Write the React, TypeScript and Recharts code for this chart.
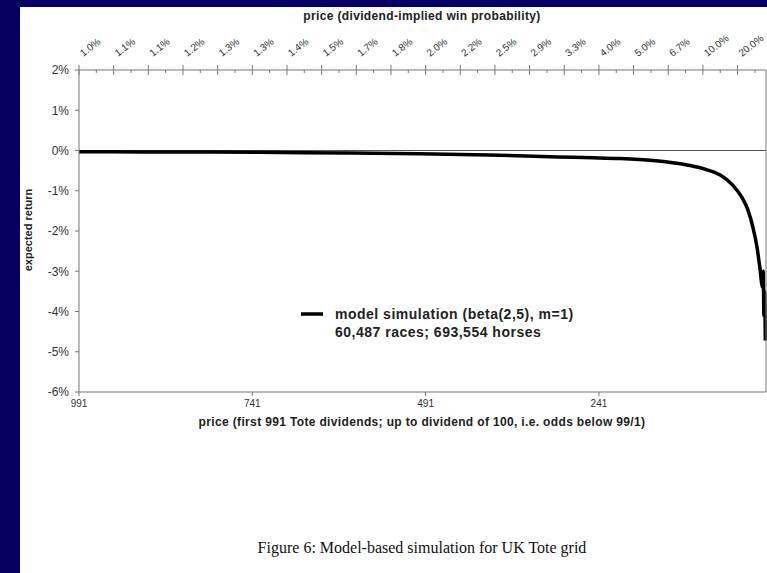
import { LineChart, Line, XAxis, YAxis, ReferenceLine, Legend } from "recharts";

// price index (first 991 Tote dividends), read right-to-left on the chart
const prices = [991, 900, 800, 700, 600, 500, 400, 300, 250, 211, 163, 114, 85, 66, 48, 35, 26, 19, 13, 9, 5, 4, 3, 2, 1];
// expected return in %
const returns = [-0.03, -0.035, -0.04, -0.05, -0.06, -0.08, -0.11, -0.16, -0.18, -0.2, -0.25, -0.36, -0.48, -0.61, -0.86, -1.16, -1.48, -1.9, -2.4, -2.89, -3.39, -3.0, -4.1, -3.5, -4.72];

const bottomTicks = [991, 741, 491, 241];
const yTicks = [-6, -5, -4, -3, -2, -1, 0, 1, 2];
const probLabels = ["1.0%", "1.1%", "1.1%", "1.2%", "1.3%", "1.3%", "1.4%", "1.5%", "1.7%", "1.8%", "2.0%", "2.2%", "2.5%", "2.9%", "3.3%", "4.0%", "5.0%", "6.7%", "10.0%", "20.0%"];

const data = prices.map((p, i) => ({ price: p, ret: returns[i] }));

// top axis: one category per 50 dividends
const topBounds = probLabels.map((_, i) => 991 - 50 * i);
const topMids = probLabels.map((_, i) => 991 - 50 * i - 25);

const font = "'Liberation Sans', Arial, sans-serif";
const axisColor = "#777";

function TopTick(props: any) {
  const { x, y, payload } = props;
  const idx = topMids.indexOf(payload.value);
  if (idx < 0) {
    return <line x1={x} x2={x} y1={y - 5} y2={y + 5} stroke={axisColor} />;
  }
  const tx = x - 13;
  const ty = y - 13;
  return (
    <g>
      <line x1={x} x2={x} y1={y} y2={y + 3} stroke={axisColor} />
      <text x={tx} y={ty} transform={`rotate(-38 ${tx} ${ty})`} fontSize={10} fill="#333" fontFamily={font}>
        {probLabels[idx]}
      </text>
    </g>
  );
}

function LegendBox() {
  return (
    <div style={{ display: "flex", fontFamily: font, fontWeight: "bold", fontSize: 14, letterSpacing: 0.5, color: "#222" }}>
      <svg width={22} height={18} style={{ marginRight: 12 }}>
        <line x1={0} x2={22} y1={9} y2={9} stroke="#000" strokeWidth={3.5} />
      </svg>
      <div style={{ lineHeight: "18px" }}>
        <div>model simulation (beta(2,5), m=1)</div>
        <div>60,487 races; 693,554 horses</div>
      </div>
    </div>
  );
}

const titleStyle = {
  position: "absolute" as const,
  textAlign: "center" as const,
  fontFamily: font,
  fontWeight: "bold" as const,
  fontSize: 12,
  letterSpacing: 0.35,
  color: "#222",
};

export default function App() {
  return (
    <div style={{ position: "relative", width: 767, height: 573, background: "#05005f", overflow: "hidden" }}>
      <style>{"body{margin:0}"}</style>
      <div style={{ position: "absolute", left: 20, top: 7, right: 0, bottom: 0, background: "#fff" }} />
      <div style={{ position: "absolute", left: 0, top: 0 }}>
        <LineChart width={767} height={440} data={data} margin={{ top: 0, right: 0, bottom: 0, left: 20 }}>
          <XAxis
            xAxisId="bottom"
            dataKey="price"
            type="number"
            domain={[0, 991]}
            reversed
            ticks={bottomTicks}
            interval={0}
            height={48}
            tickSize={4}
            tickMargin={4}
            stroke={axisColor}
            tick={{ fill: "#333", fontSize: 10, fontFamily: font }}
          />
          <XAxis
            xAxisId="top"
            dataKey="price"
            orientation="top"
            type="number"
            domain={[0, 991]}
            reversed
            ticks={[...topBounds, ...topMids]}
            interval={0}
            height={70}
            tickSize={0}
            tickMargin={0}
            tickLine={false}
            stroke={axisColor}
            tick={TopTick}
          />
          <YAxis
            yAxisId="left"
            type="number"
            domain={[-6, 2]}
            ticks={yTicks}
            interval={0}
            width={59}
            tickSize={4}
            tickMargin={6}
            stroke={axisColor}
            tickFormatter={(v: number) => `${v}%`}
            tick={{ fill: "#333", fontSize: 12, fontFamily: font }}
          />
          <YAxis yAxisId="right" orientation="right" domain={[-6, 2]} width={1} tick={false} tickLine={false} stroke={axisColor} />
          <ReferenceLine xAxisId="bottom" yAxisId="left" y={0} stroke="#555" strokeWidth={1} />
          {/* invisible copy so the top axis has a series bound to it */}
          <Line
            xAxisId="top"
            yAxisId="left"
            dataKey="ret"
            stroke="none"
            dot={false}
            activeDot={false}
            legendType="none"
            isAnimationActive={false}
          />
          <Line
            xAxisId="bottom"
            yAxisId="left"
            dataKey="ret"
            type="monotone"
            stroke="#000"
            strokeWidth={3.5}
            dot={false}
            isAnimationActive={false}
          />
          <Legend
            layout="horizontal"
            verticalAlign="middle"
            align="center"
            content={<LegendBox />}
            wrapperStyle={{ left: 301, top: 305, width: 340 }}
          />
        </LineChart>
      </div>
      <div style={{ ...titleStyle, left: 172, width: 500, top: 9 }}>price (dividend-implied win probability)</div>
      <div style={{ ...titleStyle, left: 122, width: 600, top: 415 }}>
        price (first 991 Tote dividends; up to dividend of 100, i.e. odds below 99/1)
      </div>
      <div
        style={{
          position: "absolute",
          left: 28,
          top: 230,
          transform: "translate(-50%, -50%) rotate(-90deg)",
          whiteSpace: "nowrap",
          fontFamily: font,
          fontWeight: "bold",
          fontSize: 11,
          color: "#222",
        }}
      >
        expected return
      </div>
      <div style={{ position: "absolute", left: 122, width: 600, top: 539, textAlign: "center", fontFamily: "'Liberation Serif', 'Times New Roman', serif", fontSize: 16, color: "#111" }}>
        Figure 6: Model-based simulation for UK Tote grid
      </div>
    </div>
  );
}
